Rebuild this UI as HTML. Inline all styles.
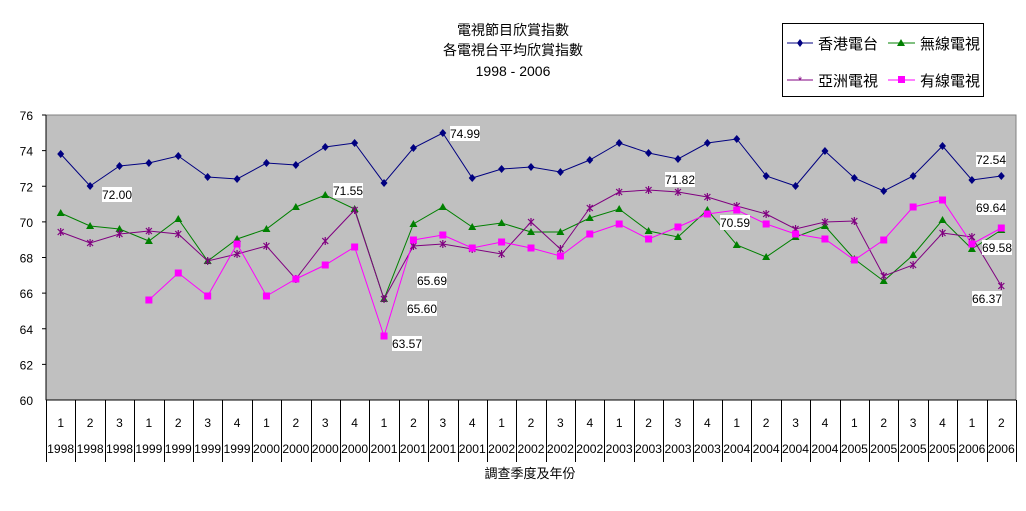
<!DOCTYPE html>
<html><head><meta charset="utf-8"><style>
body{margin:0;background:#fff;}
svg{display:block;font-family:"Liberation Sans","Noto Sans CJK TC",sans-serif;}
</style></head><body>
<svg id="s" width="1026" height="511" xmlns="http://www.w3.org/2000/svg">
<rect x="0" y="0" width="1026" height="511" fill="#fff"/>
<text x="513" y="35" font-size="14" text-anchor="middle">電視節目欣賞指數</text>
<text x="513" y="55" font-size="14" text-anchor="middle">各電視台平均欣賞指數</text>
<text x="513" y="76" font-size="14" text-anchor="middle">1998 - 2006</text>
<rect x="46" y="115" width="970" height="285" fill="#c0c0c0" stroke="#808080" stroke-width="1"/>
<g id="g"></g>
<rect x="782.5" y="23.5" width="201" height="73" fill="#fff" stroke="#000"/>
<line x1="787" y1="43" x2="813" y2="43" stroke="#000080"/>
<polygon points="800,39 803,43 800,47 797,43" fill="#000080"/>
<text x="818" y="49" font-size="15">香港電台</text>
<line x1="888" y1="43" x2="915" y2="43" stroke="#008000"/>
<polygon points="901,39 905,46 897,46" fill="#008000"/>
<text x="920" y="49" font-size="15">無線電視</text>
<line x1="787" y1="80" x2="813" y2="80" stroke="#800080"/>
<text x="800" y="84" font-size="11" fill="#800080" text-anchor="middle">*</text>
<text x="818" y="86" font-size="15">亞洲電視</text>
<line x1="888" y1="80" x2="915" y2="80" stroke="#ff00ff"/>
<rect x="898" y="76" width="7" height="7" fill="#ff00ff"/>
<text x="920" y="86" font-size="15">有線電視</text>
<text x="530" y="478" font-size="13" text-anchor="middle">調查季度及年份</text>
</svg>
<script>
var g=document.getElementById('g'),h='';
function Y(v){return 400-(v-60)*285/16;}
for(var v=60;v<=76;v+=2){var y=Y(v);h+='<text x="33" y="'+(y+5)+'" font-size="12" text-anchor="end">'+v+'</text>';if(v>60)h+='<line x1="42" y1="'+y+'" x2="46" y2="'+y+'" stroke="#000"/>';}
h+='<line x1="46" y1="115" x2="46" y2="400" stroke="#000"/>';
h+='<line x1="46" y1="400" x2="1016" y2="400" stroke="#000"/>';
var q=[1,2,3,1,2,3,4,1,2,3,4,1,2,3,4,1,2,3,4,1,2,3,4,1,2,3,4,1,2,3,4,1,2];
var yr=[1998,1998,1998,1999,1999,1999,1999,2000,2000,2000,2000,2001,2001,2001,2001,2002,2002,2002,2002,2003,2003,2003,2003,2004,2004,2004,2004,2005,2005,2005,2005,2006,2006];
var w=970/33,X=[];
for(var i=0;i<33;i++){X.push(46+w*(i+0.5));}
for(var i=0;i<=33;i++){var x=Math.round(46+w*i)+0.5;h+='<line x1="'+x+'" y1="400" x2="'+x+'" y2="462" stroke="#000"/>';}
for(var i=0;i<33;i++){h+='<text x="'+X[i]+'" y="427" font-size="12" text-anchor="middle">'+q[i]+'</text><text x="'+X[i]+'" y="453" font-size="11.5" text-anchor="middle" textLength="27" lengthAdjust="spacingAndGlyphs">'+yr[i]+'</text>';}
var B=[154,186,166,163,156,177,179,163,165,147,143,183,148,133,178,169,167,172,160,143,153,159,143,139,176,186,151,178,191,176,146,180,176];
var G=[213,226,229,241,219,261,239,229,207,195,209,299,224,207,227,223,232,232,218,209,231,237,210,245,257,237,226,259,281,255,220,249,230];
var P=[232,243,234,231,234,261,254,246,279,241,210,299,246,244,249,254,222,249,208,192,190,192,197,206,214,229,222,221,276,265,233,237,286];
var M=[null,null,null,300,273,296,244,296,279,265,247,336,240,235,248,242,248,256,234,224,239,227,214,210,224,234,239,260,240,207,200,244,228];
function line(a,c){var pts=[];for(var i=0;i<33;i++)if(a[i]!=null)pts.push(X[i].toFixed(1)+','+a[i]);h+='<polyline points="'+pts.join(' ')+'" fill="none" stroke="'+c+'" stroke-width="1"/>';}
line(B,'#000080');line(G,'#008000');line(P,'#800080');line(M,'#ff00ff');
for(var i=0;i<33;i++){var x=X[i];
h+='<polygon points="'+x+','+(B[i]-4)+' '+(x+3.5)+','+B[i]+' '+x+','+(B[i]+4)+' '+(x-3.5)+','+B[i]+'" fill="#000080"/>';
h+='<polygon points="'+x+','+(G[i]-4)+' '+(x+4)+','+(G[i]+3)+' '+(x-4)+','+(G[i]+3)+'" fill="#008000"/>';
h+='<path d="M'+(x-3)+','+(P[i]-3)+'L'+(x+3)+','+(P[i]+3)+'M'+(x+3)+','+(P[i]-3)+'L'+(x-3)+','+(P[i]+3)+'M'+x+','+(P[i]-4)+'L'+x+','+(P[i]+4)+'" stroke="#800080" stroke-width="1.2"/>';
if(M[i]!=null)h+='<rect x="'+(x-3.5)+'" y="'+(M[i]-3.5)+'" width="7" height="7" fill="#ff00ff"/>';}
var L=[[102,187,'72.00'],[333,183,'71.55'],[450,126,'74.99'],[417,273,'65.69'],[407,301,'65.60'],[392,336,'63.57'],[665,172,'71.82'],[720,215,'70.59'],[976,152,'72.54'],[976,200,'69.64'],[982,240,'69.58'],[972,291,'66.37']];
L.forEach(function(l){h+='<rect x="'+l[0]+'" y="'+l[1]+'" width="30" height="15" fill="#fff"/><text x="'+(l[0]+15)+'" y="'+(l[1]+12)+'" font-size="12" text-anchor="middle">'+l[2]+'</text>';});
g.innerHTML=h;
</script>
</body></html>
